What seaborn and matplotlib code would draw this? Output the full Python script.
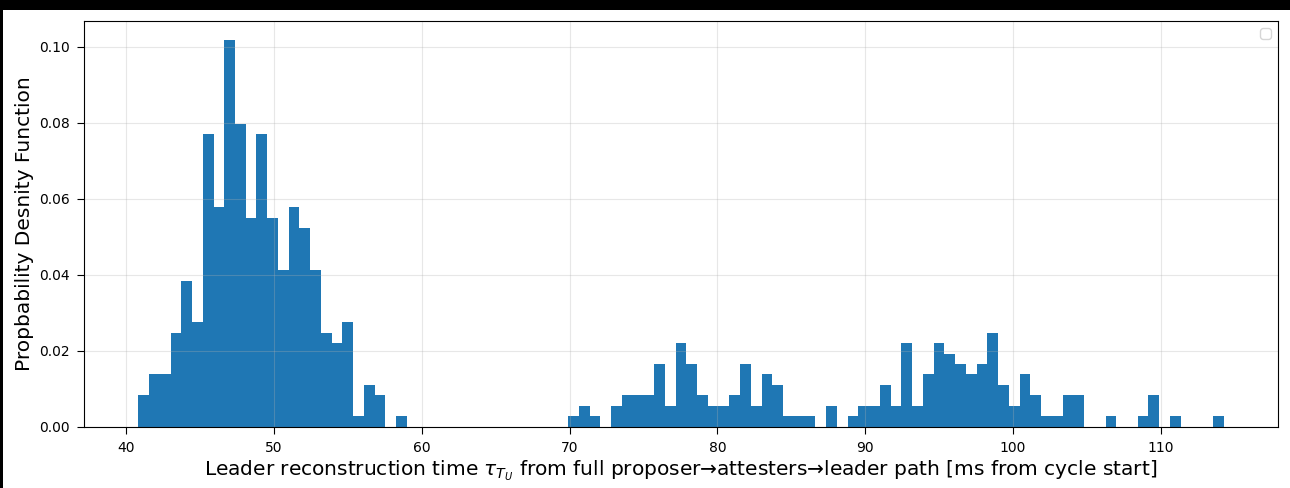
import numpy as np
import pandas as pd
import matplotlib
matplotlib.use("Agg")
import matplotlib.pyplot as plt
from matplotlib.patches import Rectangle
import seaborn as sns

# Histogram of leader reconstruction times: 101 equal-width bins
bin_start = 40.81      # ms, left edge of the first bin
bin_width = 0.7273     # ms
counts = [
    3, 5, 5, 9, 14, 10, 28, 21, 37, 29, 20, 28, 20, 15, 21, 19, 15, 9, 8, 10, 1, 4, 3, 0, 1,
    0, 0, 0, 0, 0, 0, 0, 0, 0, 0, 0, 0, 0, 0, 0,
    1, 2, 1, 0, 2, 3, 3, 3, 6, 2, 8, 6, 3, 2, 2, 3, 6, 2, 5, 4, 1, 1,
    1, 0, 2, 0, 1, 2, 2, 4, 2, 8, 2, 5, 8, 7, 6, 5, 6, 9,
    4, 2, 5, 3, 1, 1, 3, 3, 0, 0, 1, 0, 0, 1, 3, 0, 1, 0, 0, 0, 1,
]
x_ticks = [40, 50, 60, 70, 80, 90, 100, 110]
y_ticks = [0.00, 0.02, 0.04, 0.06, 0.08, 0.10]

edges = bin_start + bin_width * np.arange(len(counts) + 1)
df = pd.DataFrame({"t": (edges[:-1] + edges[1:]) / 2, "n": counts})

fig = plt.figure(figsize=(12.9, 4.88), dpi=100, facecolor="black")
# white canvas area, leaving a thin dark margin on the top and left
fig.add_artist(Rectangle((3 / 1290, 0), 1 - 3 / 1290, 478 / 488,
                         transform=fig.transFigure, facecolor="white",
                         edgecolor="none", zorder=-10))
ax = fig.add_axes([84 / 1290, 61.3 / 488, (1278 - 84) / 1290, (426.7 - 21) / 488])
ax.set_zorder(1)

sns.histplot(data=df, x="t", weights="n", bins=edges.tolist(), stat="density",
             color="#1f77b4", alpha=1.0, linewidth=0, ax=ax)

ax.grid(True, alpha=0.3)
ax.set_xticks(x_ticks)
ax.set_yticks(y_ticks)
ax.set_yticklabels([f"{v:.2f}" for v in y_ticks])
ax.tick_params(labelsize=10, length=5, pad=5)
ax.set_xlabel(r"Leader reconstruction time $\tau_{T_U}$ from full proposer→attesters→leader path [ms from cycle start]",
              fontsize=14.5, labelpad=3)
ax.set_ylabel("Propbability Desnity Function", fontsize=14.5)
ax.legend(handles=[], loc="upper right")

fig.savefig("out.png", dpi=100, facecolor=fig.get_facecolor())
